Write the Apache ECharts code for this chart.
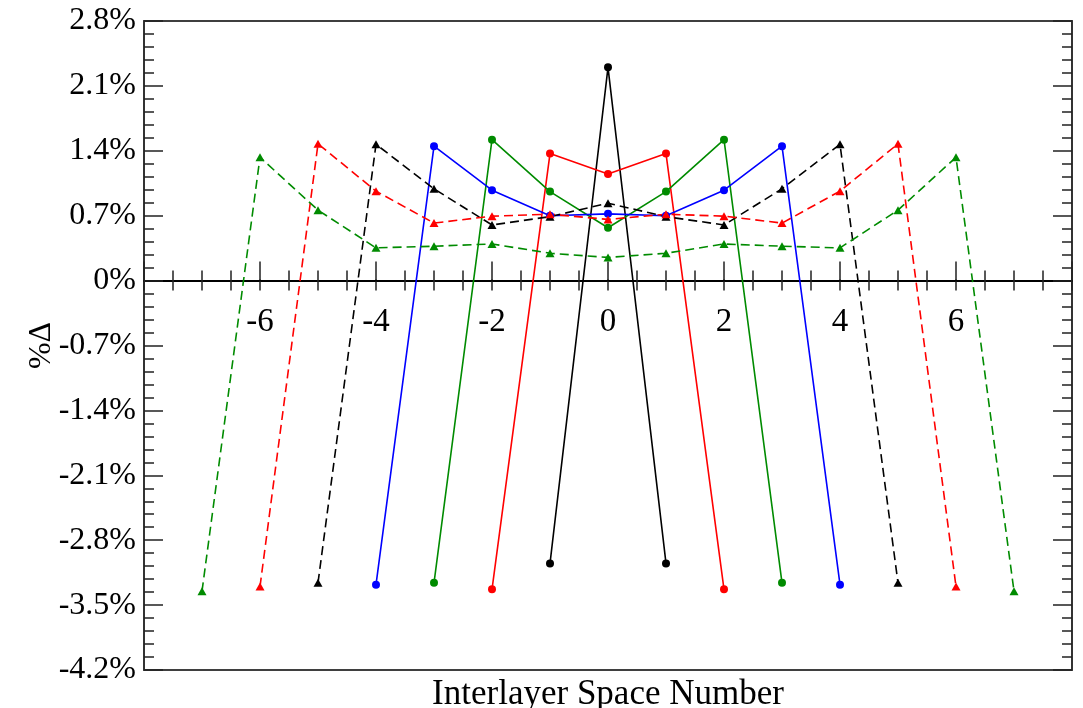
<!DOCTYPE html>
<html>
<head>
<meta charset="utf-8">
<script src="https://cdn.jsdelivr.net/npm/echarts@6.0.0/dist/echarts.min.js"></script>
<style>
  html, body { margin: 0; padding: 0; background: #fff; }
  #chart { width: 1083px; height: 708px; }
</style>
</head>
<body>
<div id="chart"></div>
<script>
// Interlayer space numbers for each profile (one profile per structure size)
const spacesA = [-1, 0, 1];
const spacesB = [-2, -1, 0, 1, 2];
const spacesC = [-3, -2, -1, 0, 1, 2, 3];
const spacesD = [-4, -3, -2, -1, 0, 1, 2, 3, 4];
const spacesE = [-5, -4, -3, -2, -1, 0, 1, 2, 3, 4, 5];
const spacesF = [-6, -5, -4, -3, -2, -1, 0, 1, 2, 3, 4, 5, 6];
const spacesG = [-7, -6, -5, -4, -3, -2, -1, 0, 1, 2, 3, 4, 5, 6, 7];

// Percentage change per interlayer space (%)
const deltaA = [-3.05, 2.30, -3.05];
const deltaB = [-3.33, 1.37, 1.15, 1.37, -3.33];
const deltaC = [-3.26, 1.52, 0.96, 0.57, 0.96, 1.52, -3.26];
const deltaD = [-3.28, 1.45, 0.975, 0.70, 0.72, 0.70, 0.975, 1.45, -3.28];
const deltaE = [-3.26, 1.47, 0.99, 0.60, 0.69, 0.835, 0.69, 0.60, 0.99, 1.47, -3.26];
const deltaF = [-3.30, 1.475, 0.965, 0.62, 0.695, 0.716, 0.66, 0.716, 0.695, 0.62, 0.965, 1.475, -3.30];
const deltaG = [-3.35, 1.33, 0.76, 0.353, 0.371, 0.395, 0.295, 0.25, 0.295, 0.395, 0.371, 0.353, 0.76, 1.33, -3.35];

// Axis tick labels
const xTickLabels = ['-6', '-4', '-2', '0', '2', '4', '6'];
const yTickLabels = ['-4.2%', '-3.5%', '-2.8%', '-2.1%', '-1.4%', '-0.7%', '0%', '0.7%', '1.4%', '2.1%', '2.8%'];

const xName = 'Interlayer Space Number';
const yName = '%\u0394';

const serif = '"Liberation Serif", "Times New Roman", serif';
const GREEN = '#008b00';
const DASH = [9, 5];

function pairs(xs, ys) {
  return xs.map((x, i) => [x, ys[i]]);
}

function profile(xs, ys, color, symbol, dashed) {
  return {
    type: 'line',
    xAxisIndex: 0,
    yAxisIndex: 0,
    data: pairs(xs, ys),
    symbol: symbol,
    symbolSize: symbol === 'circle' ? 8 : [9, 8],
    showSymbol: true,
    itemStyle: { color: color },
    lineStyle: { color: color, width: 1.6, type: dashed ? DASH : 'solid' },
    emphasis: { disabled: true },
    silent: true
  };
}

function yLabel(v) {
  const s = (Math.abs(v) < 1e-9 ? '0' : v.toFixed(1)) + '%';
  return yTickLabels.indexOf(s) >= 0 ? s : '';
}

const tickStyle = { color: '#222', width: 1.5 };

// numeric labels under the zero line, anchored to the tick values
const xLabelSeries = {
  type: 'scatter',
  xAxisIndex: 0,
  yAxisIndex: 0,
  data: xTickLabels.map(t => ({ value: [Number(t), 0], name: t })),
  symbol: 'circle',
  symbolSize: 2,
  itemStyle: { color: '#000', opacity: 1 },
  label: {
    show: true, position: 'bottom', distance: 24.4, opacity: 1,
    formatter: p => p.name,
    fontFamily: serif, fontSize: 33, color: '#000'
  },
  labelLayout: { hideOverlap: false },
  emphasis: { disabled: true },
  clip: false,
  silent: true,
  z: 5
};

const chart = echarts.init(document.getElementById('chart'), null, { renderer: 'canvas' });
chart.setOption({
  animation: false,
  backgroundColor: '#fff',
  grid: {
    left: 144, right: 11, top: 21, bottom: 38,
    outerBoundsMode: 'none',
    containLabel: false,
    show: true, borderColor: '#000', borderWidth: 1.5, backgroundColor: 'transparent'
  },
  xAxis: [
    {
      // zero line with upward ticks
      type: 'value', min: -8, max: 8, interval: 2, position: 'bottom',
      axisLine: { show: true, onZero: true, onZeroAxisIndex: 0, lineStyle: { color: '#000', width: 2 } },
      axisTick: { show: true, inside: true, length: 19, lineStyle: tickStyle },
      minorTick: { show: true, splitNumber: 4, length: 10, lineStyle: tickStyle },
      axisLabel: { show: false },
      splitLine: { show: false }, minorSplitLine: { show: false }
    },
    {
      // downward half of the zero-line ticks
      type: 'value', min: -8, max: 8, interval: 2, position: 'bottom',
      axisLine: { show: true, onZero: true, onZeroAxisIndex: 0, lineStyle: { color: '#000', width: 2 } },
      axisTick: { show: true, inside: false, length: 10, lineStyle: tickStyle },
      minorTick: { show: true, splitNumber: 4, length: 10, lineStyle: tickStyle },
      axisLabel: { show: false },
      splitLine: { show: false }, minorSplitLine: { show: false }
    },
    {
      // frame bottom carrying the axis title
      type: 'value', min: -8, max: 8, position: 'bottom',
      axisLine: { show: false, onZero: false },
      axisTick: { show: false }, axisLabel: { show: false }, splitLine: { show: false },
      name: xName, nameLocation: 'middle', nameGap: 7, nameMoveOverlap: false,
      nameTextStyle: { fontFamily: serif, fontSize: 35, color: '#000', verticalAlign: 'top' }
    }
  ],
  yAxis: [
    {
      type: 'value', min: -4.2, max: 2.8, interval: 0.7, position: 'left',
      axisLine: { show: true, onZero: false, lineStyle: { color: '#333', width: 2 } },
      axisTick: { show: true, inside: true, length: 19, lineStyle: tickStyle },
      minorTick: { show: true, splitNumber: 5, length: 10, lineStyle: tickStyle },
      axisLabel: { show: true, margin: 8, fontFamily: serif, fontSize: 32, color: '#000', formatter: yLabel },
      splitLine: { show: false }, minorSplitLine: { show: false },
      name: yName, nameLocation: 'middle', nameRotate: 90, nameGap: 86, nameMoveOverlap: false,
      nameTextStyle: { fontFamily: serif, fontSize: 32, color: '#000' }
    },
    {
      type: 'value', min: -4.2, max: 2.8, interval: 0.7, position: 'right',
      axisLine: { show: true, onZero: false, lineStyle: { color: '#333', width: 2 } },
      axisTick: { show: true, inside: true, length: 19, lineStyle: tickStyle },
      minorTick: { show: true, splitNumber: 5, length: 10, lineStyle: tickStyle },
      axisLabel: { show: false },
      splitLine: { show: false }, minorSplitLine: { show: false }
    }
  ],
  series: [
    xLabelSeries,
    profile(spacesA, deltaA, '#000000', 'circle', false),
    profile(spacesB, deltaB, '#ff0000', 'circle', false),
    profile(spacesC, deltaC, GREEN, 'circle', false),
    profile(spacesD, deltaD, '#0000ff', 'circle', false),
    profile(spacesE, deltaE, '#000000', 'triangle', true),
    profile(spacesF, deltaF, '#ff0000', 'triangle', true),
    profile(spacesG, deltaG, GREEN, 'triangle', true)
  ]
});
</script>
</body>
</html>
